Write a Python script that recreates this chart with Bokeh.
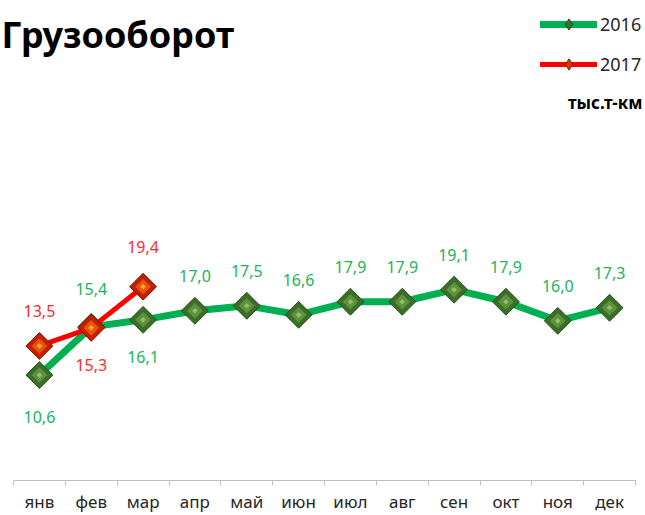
import numpy as np
from bokeh.plotting import figure
from bokeh.models import Range1d, FixedTicker, Label, Legend, LegendItem, ColumnDataSource
from bokeh.core.properties import value
from bokeh.embed import file_html
from bokeh.resources import INLINE

# ---- data ----
months = ["янв", "фев", "мар", "апр", "май", "июн", "июл", "авг", "сен", "окт", "ноя", "дек"]
v2016 = [10.6, 15.4, 16.1, 17.0, 17.5, 16.6, 17.9, 17.9, 19.1, 17.9, 16.0, 17.3]
v2017 = [13.5, 15.3, 19.4]
series_names = ["2016", "2017"]
title_text = "Грузооборот"
unit_text = "тыс.т-км"

FONT = "Noto Sans"
GREEN = "#00b050"
GREEN_LBL = "#22b45a"
RED = "#ff0000"
RED_LBL = "#ff2a2a"

W, H = 645, 515
PAD_L, PAD_R = 13, 10            # category band inset inside the frame (px)
n = len(months)
UNIT = (W - PAD_L - PAD_R) / n
p = figure(width=W, height=H, output_backend="svg", toolbar_location=None,
           x_range=Range1d(-0.5 - PAD_L / UNIT, n - 0.5 + PAD_R / UNIT),
           y_range=Range1d(0.1, 47.9),
           y_axis_location=None,
           min_border_left=0, min_border_right=0, min_border_top=0, min_border_bottom=32)
p.grid.visible = False
p.outline_line_color = None
p.background_fill_color = "white"
p.border_fill_color = "white"

idx = np.arange(n)
ax = p.xaxis[0]
ax.bounds = (-0.5, n - 0.5)
ax.ticker = FixedTicker(ticks=[int(i) for i in idx],
                        minor_ticks=[float(i) - 0.5 for i in range(n + 1)])
ax.major_label_overrides = {int(i): m for i, m in zip(idx, months)}
ax.major_tick_line_color = None
ax.major_tick_out = 0
ax.major_tick_in = 0
ax.minor_tick_line_color = "#bfbfbf"
ax.minor_tick_out = 5
ax.minor_tick_in = 0
ax.axis_line_color = "#bfbfbf"
ax.axis_line_width = 1
ax.major_label_text_font = FONT
ax.major_label_text_font_size = "17px"
ax.major_label_text_color = "#262626"
ax.major_label_standoff = 4

x16 = idx
x17 = idx[:len(v2017)]


def fmt(v):
    return f"{v:.1f}".replace(".", ",")


def marker(xs, ys, base, edge, mid, top):
    p.scatter(xs, ys, marker="square", angle=np.pi / 4, size=19,
              fill_color=base, line_color=edge, line_width=1)
    p.scatter(xs, ys, marker="square", angle=np.pi / 4, size=11,
              fill_color=mid, line_color=None)
    p.scatter(xs, ys, marker="square", angle=np.pi / 4, size=4,
              fill_color=top, line_color=None)


g_line = p.line(x16, v2016, line_color=GREEN, line_width=7, line_join="round", line_cap="round")
marker(x16, v2016, "#3b6f28", "#24501a", "#5e9140", "#93bf66")
r_line = p.line(x17, v2017, line_color=RED, line_width=5, line_join="round", line_cap="round")
marker(x17, v2017, "#c42000", "#8a1200", "#e8540e", "#ffa530")

# legend-only marker glyphs (not shown in the plot area)
g_leg = p.scatter([np.nan], [np.nan], marker="diamond", fill_color="#3b6f28", line_color="#24501a")
r_leg = p.scatter([np.nan], [np.nan], marker="diamond", fill_color="#d03a00", line_color="#8a1200")

# data labels
g_off = [42, -38, 37, -35, -35, -35, -35, -35, -35, -35, -35, -35]
r_off = [-35, 37, -40]
src_g = ColumnDataSource(dict(x=x16, y=v2016, t=[fmt(v) for v in v2016], dy=g_off))
src_r = ColumnDataSource(dict(x=x17, y=v2017, t=[fmt(v) for v in v2017], dy=r_off))
p.text(x="x", y="y", text="t", y_offset="dy", source=src_g, text_align="center",
       text_baseline="middle", text_font=value(FONT), text_font_size="16px",
       text_color=GREEN_LBL)
p.text(x="x", y="y", text="t", y_offset="dy", source=src_r, text_align="center",
       text_baseline="middle", text_font=value(FONT), text_font_size="16px",
       text_color=RED_LBL)

# title
p.add_layout(Label(x=1, y=446, x_units="screen", y_units="screen", text=title_text,
                   text_font=FONT, text_font_size="36px", text_font_style="bold",
                   text_color="#000000", text_baseline="alphabetic", text_align="left"))
# unit
p.add_layout(Label(x=642, y=378, x_units="screen", y_units="screen", text=unit_text,
                   text_font=FONT, text_font_size="17px", text_font_style="bold",
                   text_color="#000000", text_baseline="middle", text_align="right"))

legend = Legend(items=[LegendItem(label=series_names[0], renderers=[g_line, g_leg]),
                       LegendItem(label=series_names[1], renderers=[r_line, r_leg])],
                location=(540, 402), orientation="vertical")
legend.glyph_width = 57
legend.glyph_height = 28
legend.label_height = 28
legend.spacing = 12
legend.padding = 0
legend.margin = 0
legend.label_standoff = 3
legend.border_line_color = None
legend.background_fill_alpha = 0
legend.label_text_font = FONT
legend.label_text_font_size = "18px"
legend.label_text_color = "#262626"
p.add_layout(legend, "center")

open("out.html", "w").write(file_html(p, INLINE))
